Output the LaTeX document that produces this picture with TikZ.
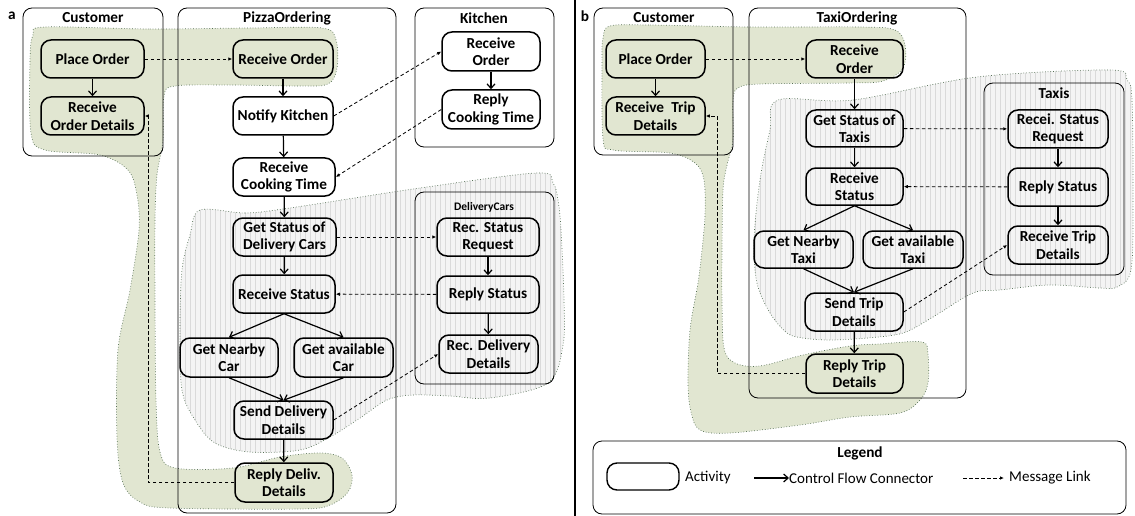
\documentclass[tikz,border=0pt]{standalone}
\usepackage{fontspec}
\setmainfont{Carlito}
\usetikzlibrary{arrows.meta}
\definecolor{gfill}{RGB}{225,230,209}
\definecolor{gline}{RGB}{85,112,85}
\definecolor{grfill}{RGB}{244,244,244}
\definecolor{grstripe}{RGB}{218,218,218}
\tikzset{
  lane/.style={draw, rounded corners=9pt, line width=0.8pt},
  act/.style={draw, rounded corners=10pt, line width=1.5pt, align=center, inner sep=1pt,
    font=\fontsize{15.3}{17.5}\selectfont\bfseries, minimum width=100pt, minimum height=38pt},
  lanetitle/.style={font=\fontsize{15.3}{17.5}\selectfont\bfseries, inner sep=0pt},
  flow/.style={line width=1.2pt, -{Straight Barb[length=4.5pt,width=8pt]}},
  msg/.style={line width=0.8pt, dash pattern=on 3.5pt off 2.5pt, -{Latex[length=4pt,width=3.5pt]}},
  blobborder/.style={draw=gline, line width=0.7pt, dotted},
  legtext/.style={font=\fontsize{15}{17.5}\selectfont, inner sep=0pt}
}
\def\greenA{plot[smooth cycle, tension=0.55] coordinates {(45,27) (150,29) (250,28) (322,28) (336,40) (337,68) (328,84) (300,86) (230,85) (175,86) (164,96) (163,140) (157,175) (155,220) (155,300) (156,400) (160,452) (175,468) (233,468) (280,457) (320,453) (342,458) (352,475) (348,492) (330,505) (300,509) (170,508) (140,502) (123,483) (117,437) (118,350) (130,290) (139,230) (137,195) (128,170) (100,155) (45,150) (31,133) (30,60) (33,35)}}
\def\greyA{plot[smooth cycle, tension=0.55] coordinates {(200,210) (245,213) (290,208) (420,188) (537,173) (553,183) (558,200) (561,230) (564,300) (563,345) (548,383) (490,398) (450,396) (413,395) (387,400) (360,418) (330,437) (300,450) (250,452) (215,443) (195,420) (182,390) (180,330) (182,270) (190,235)}}
\def\greenB{plot[smooth cycle, tension=0.55] coordinates {(610,26) (650,25) (750,27) (860,27) (895,30) (905,45) (903,68) (883,81) (850,83) (760,84) (738,88) (733,100) (733,140) (727,165) (723,190) (722,250) (722,300) (724,348) (735,363) (760,366) (803,355) (850,346) (880,344) (922,342) (928,355) (928,383) (920,400) (900,413) (850,417) (800,425) (730,433) (700,430) (691,412) (688,383) (690,330) (698,283) (702,250) (705,215) (704,180) (695,163) (670,153) (613,150) (603,138) (602,60) (603,38)}}
\def\greyB{plot[smooth cycle, tension=0.55] coordinates {(778,100) (853,100) (977,77) (1110,70) (1127,80) (1132,100) (1133,200) (1131,270) (1117,287) (1100,288) (1050,285) (1000,290) (973,293) (933,317) (903,333) (867,338) (830,340) (803,338) (787,333) (770,313) (757,283) (754,240) (760,180) (770,130)}}
\begin{document}
\begin{tikzpicture}[x=1pt,y=-1pt]
\useasboundingbox (0,0) rectangle (1135,516);
\fill[white] (0,0) rectangle (1135,516);
% ---- blobs
\fill[gfill] \greenA;
\draw[blobborder] \greenA;
\fill[grfill] \greyA;
\begin{scope}
  \clip \greyA;
  \foreach \i in {0,...,80} {\draw[grstripe, line width=0.5pt] (175+5*\i,160) -- (175+5*\i,460);}
\end{scope}
\draw[blobborder] \greyA;
\fill[gfill] \greenB;
\draw[blobborder] \greenB;
\fill[grfill] \greyB;
\begin{scope}
  \clip \greyB;
  \foreach \i in {0,...,80} {\draw[grstripe, line width=0.5pt] (750+5*\i,60) -- (750+5*\i,350);}
\end{scope}
\draw[blobborder] \greyB;
% ---- panel labels and separator
\node[lanetitle] (la) at (12,16) {a};
\node[lanetitle] (lb) at (585,16) {b};
\coordinate (sepT) at (575,0);
\coordinate (sepB) at (575,516);
\draw[line width=2pt] (sepT) -- (sepB);
% ---- lanes panel a
\draw[lane] (23,8) rectangle (163,156);
\node[lanetitle] (tCa) at (93,18) {Customer};
\draw[lane] (178,8) rectangle (396,513);
\node[lanetitle] (tPO) at (287,18) {PizzaOrdering};
\draw[lane] (415,8) rectangle (554,147);
\node[lanetitle] (tK) at (484,18) {Kitchen};
\draw[lane] (415,192) rectangle (554,384);
\node[lanetitle, font=\fontsize{11.5}{13}\selectfont\bfseries] (tD) at (484,207) {DeliveryCars};
% ---- lanes panel b
\draw[lane] (594,8) rectangle (733,155);
\node[lanetitle] (tCb) at (664,18) {Customer};
\draw[lane] (749,8) rectangle (966,398);
\node[lanetitle] (tTO) at (857,18) {TaxiOrdering};
\draw[lane] (984,83) rectangle (1124,275);
\node[lanetitle] (tT) at (1054,93) {Taxis};
% ---- nodes panel a
\node[act, minimum width=103pt] (aPO) at (92.5,59) {Place Order};
\node[act, minimum width=103pt] (aROD) at (92.5,116) {Receive\\Order Details};
\node[act] (aRO) at (283,59) {Receive Order};
\node[act] (aNK) at (283,116) {Notify Kitchen};
\node[act, minimum width=102pt] (aRCT) at (284,177) {Receive\\Cooking Time};
\node[act, minimum width=103pt] (aGS) at (284.5,237) {Get Status of\\Delivery Cars};
\node[act, minimum width=102pt] (aRS) at (284,294) {Receive Status};
\node[act, minimum width=98pt, minimum height=39pt] (aGN) at (229,357.5) {Get Nearby\\Car};
\node[act, minimum width=99pt, minimum height=39pt] (aGA) at (343.5,357.5) {Get available\\Car};
\node[act, minimum width=99pt] (aSD) at (283.5,420) {Send Delivery\\Details};
\node[act, minimum width=98pt, minimum height=39pt] (aRD) at (284,482.5) {Reply Deliv.\\Details};
\node[act, minimum width=98pt, minimum height=39pt] (kRO) at (491,51.5) {Receive\\Order};
\node[act, minimum width=98pt, minimum height=39pt] (kRC) at (491,109.5) {Reply\\Cooking Time};
\node[act, minimum width=102pt] (dRS) at (488,237) {Rec. Status\\Request};
\node[act, minimum width=102pt, minimum height=37pt] (dRP) at (488,294.5) {Reply Status};
\node[act, minimum width=99pt] (dRD) at (488.5,354) {Rec. Delivery\\Details};
% ---- nodes panel b
\node[act, minimum width=99pt] (bPO) at (655.5,59) {Place Order};
\node[act, minimum width=99pt] (bRT) at (655.5,116) {Receive\hspace{0.25em} Trip\\Details};
\node[act, minimum width=97pt] (bRO) at (854.5,59) {Receive\\Order};
\node[act, minimum width=97pt, minimum height=37pt] (bGS) at (854.5,128.5) {Get Status of\\Taxis};
\node[act, minimum width=97pt, minimum height=37pt] (bRS) at (854.5,186.5) {Receive\\Status};
\node[act, minimum width=99pt, minimum height=37pt] (bGN) at (803.5,249.5) {Get Nearby\\Taxi};
\node[act, minimum width=100pt, minimum height=37pt] (bGA) at (913,249.5) {Get available\\Taxi};
\node[act, minimum width=98pt] (bSD) at (854,312) {Send Trip\\Details};
\node[act, minimum width=97pt, minimum height=39pt] (bRP) at (854.5,373.5) {Reply Trip\\Details};
\node[act] (tRS) at (1058,129) {Recei. Status\\Request};
\node[act] (tRP) at (1058,187) {Reply Status};
\node[act] (tRT) at (1058,245) {Receive Trip\\Details};
% ---- edges panel a
\draw[flow] (aPO) -- (aROD);
\draw[msg] (aPO) -- (aRO);
\draw[flow] (aRO) -- (aNK);
\draw[msg] (aNK.east) -- (kRO.west);
\draw[flow] (kRO) -- (kRC);
\draw[msg] (kRC.west) -- (aRCT.east);
\draw[flow] (aNK) -- (aRCT);
\draw[flow] (aRCT) -- (aGS);
\draw[msg] (aGS) -- (dRS);
\draw[flow] (aGS) -- (aRS);
\draw[flow] (dRS) -- (dRP);
\draw[msg] (dRP) -- (aRS);
\draw[flow] (dRP) -- (dRD);
\draw[flow] (aRS.south) -- (aGN.north);
\draw[flow] (aRS.south) -- (aGA.north);
\draw[flow] (aGN.south) -- (aSD.north);
\draw[flow] (aGA.south) -- (aSD.north);
\draw[msg] (aSD.east) -- (dRD.west);
\draw[flow] (aSD) -- (aRD);
\coordinate (aElb) at (148,482.5);
\draw[msg] (aRD.west) -- (aElb) |- (aROD.east);
% ---- edges panel b
\draw[flow] (bPO) -- (bRT);
\draw[msg] (bPO) -- (bRO);
\draw[flow] (bRO) -- (bGS);
\draw[msg] (bGS) -- (tRS);
\draw[flow] (bGS) -- (bRS);
\draw[flow] (tRS) -- (tRP);
\draw[msg] (tRP) -- (bRS);
\draw[flow] (tRP) -- (tRT);
\draw[flow] (bRS.south) -- (bGN.north);
\draw[flow] (bRS.south) -- (bGA.north);
\draw[flow] (bGN.south) -- (bSD.north);
\draw[flow] (bGA.south) -- (bSD.north);
\draw[msg] (bSD.east) -- (tRT.west);
\draw[flow] (bSD) -- (bRP);
\coordinate (bElb) at (717,373.5);
\draw[msg] (bRP.west) -- (bElb) |- (bRT.east);
% ---- legend
\draw[lane] (593,441) rectangle (1126,514);
\node[lanetitle] (lgT) at (860,453) {Legend};
\draw[line width=1.4pt, rounded corners=10pt] (607,463) rectangle (679,490);
\node[legtext, anchor=west] (lgA) at (685,478) {Activity};
\node[legtext, anchor=west] (lgC) at (789,478) {Control Flow Connector};
\coordinate (lgCs) at (754,478);
\draw[flow] (lgCs) -- (lgC.west);
\node[legtext, anchor=west] (lgM) at (1009,478) {Message Link};
\coordinate (lgMs) at (963,478);
\draw[msg] (lgMs) -- ([xshift=-5pt]lgM.west);
\end{tikzpicture}
\end{document}
